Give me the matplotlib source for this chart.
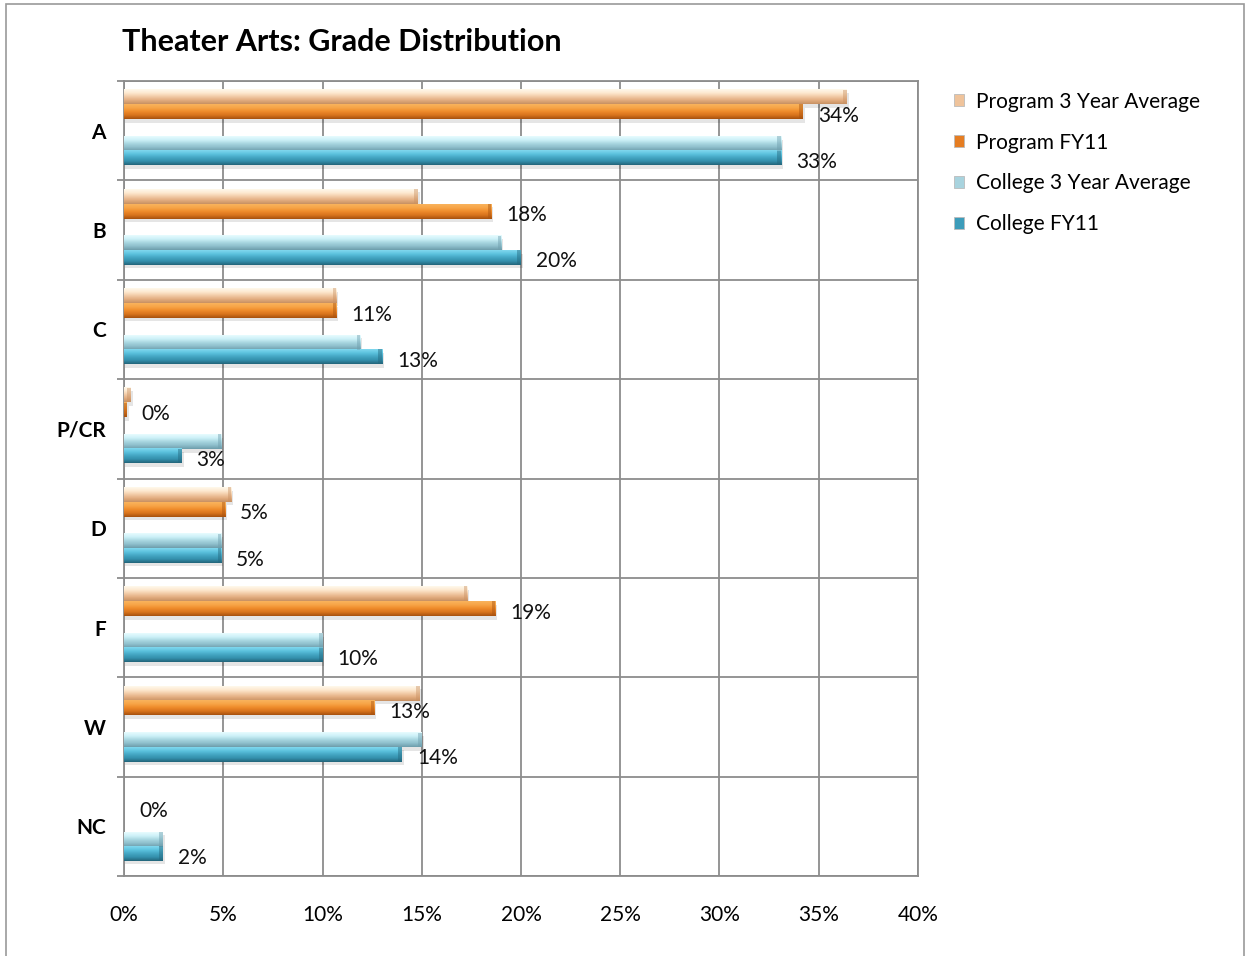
import numpy as np
import matplotlib
matplotlib.use("Agg")
import matplotlib.pyplot as plt
from matplotlib.patches import Patch, Rectangle
from matplotlib.colors import to_rgb

plt.rcParams['font.family'] = ['Lato', 'DejaVu Sans']

# -----------------------------
# DATA (percent)
# -----------------------------
grades = ["A", "B", "C", "P/CR", "D", "F", "W", "NC"]
series_names = ["Program 3 Year Average", "Program FY11",
                "College 3 Year Average", "College FY11"]

program_3yr = [36.4, 14.8, 10.7, 0.35, 5.4, 17.3, 14.9, 0.0]
program_fy11 = [34.2, 18.5, 10.7, 0.13, 5.1, 18.7, 12.6, 0.0]
college_3yr = [33.1, 19.0, 11.9, 4.9, 4.9, 10.0, 15.0, 1.95]
college_fy11 = [33.1, 20.0, 13.0, 2.9, 4.9, 10.0, 14.0, 1.95]

x_ticks = [0, 5, 10, 15, 20, 25, 30, 35, 40]

# -----------------------------
# STYLE
# -----------------------------
W, H = 1247, 956
GRID = "#8c8c8c"
BAR_H = 0.148
OFFSETS = [-0.34, -0.19, 0.13, 0.275]
LABELLED = [False, True, False, True]

# gradient stops, top -> bottom
GRADIENTS = [
    ["#fff8ea", "#fde9d0", "#f2cba6", "#e3ad80", "#c99264"],
    ["#f9b25c", "#f7a446", "#ee8a2a", "#d8731c", "#a9530f"],
    ["#e6fbfe", "#cdf1f8", "#a8d6e0", "#8ebfcc", "#6f9ead"],
    ["#7fd7ee", "#5cc2de", "#44a6c3", "#3490ac", "#24677d"],
]
LEGEND_COLORS = ["#efc39b", "#e57d22", "#a8d3de", "#3c9cba"]


def gradient_img(stops, n=24):
    cols = np.array([to_rgb(c) for c in stops])
    pos = np.linspace(0, 1, len(stops))
    t = np.linspace(0, 1, n)
    img = np.stack([np.interp(t, pos, cols[:, k]) for k in range(3)], axis=1)
    return img[:, None, :]


fig = plt.figure(figsize=(W / 100, H / 100), dpi=100)
ax = fig.add_axes([124 / W, 1 - 876 / H, 794 / W, 795 / H])

all_series = [program_3yr, program_fy11, college_3yr, college_fy11]
ypos = np.arange(len(grades))

for s, vals in enumerate(all_series):
    img = gradient_img(GRADIENTS[s])
    dark = np.array(to_rgb(GRADIENTS[s][-1]))
    for i, v in enumerate(vals):
        c = ypos[i] + OFFSETS[s]
        top, bot = c - BAR_H / 2, c + BAR_H / 2
        if v > 0:
            # soft drop shadow
            ax.add_patch(Rectangle((0.05, top + 0.035), v + 0.05, BAR_H,
                                   facecolor="black", alpha=0.10,
                                   edgecolor="none", zorder=2))
            ax.imshow(img, extent=(0, v, bot, top), origin="upper",
                      aspect="auto", interpolation="bilinear", zorder=3)
            # bevelled end
            ax.add_patch(Rectangle((max(v - 0.18, 0), top), min(0.18, v), BAR_H,
                                   facecolor=dark, alpha=0.45,
                                   edgecolor="none", zorder=4))
        if LABELLED[s]:
            ax.annotate(f"{v:.0f}%", (v, c), xytext=(15, -4),
                        textcoords="offset pixels", ha="left", va="center",
                        fontsize=15, color="#111111", zorder=5)

ax.set_xlim(0, 40)
ax.set_ylim(len(grades) - 0.5, -0.5)
ax.set_aspect("auto")

# grid / ticks
ax.set_xticks(x_ticks)
ax.set_xticklabels([f"{t}%" for t in x_ticks], fontsize=15)
ax.tick_params(axis="x", length=0, pad=21)

ax.set_yticks(np.arange(len(grades) + 1) - 0.5)
ax.set_yticklabels([])
ax.set_yticks(ypos, minor=True)
ax.set_yticklabels(grades, minor=True, fontsize=15, fontweight="bold")
ax.tick_params(axis="y", which="major", length=5, width=1.3, color=GRID)
ax.tick_params(axis="y", which="minor", length=0, pad=13)

ax.grid(True, which="major", color=GRID, linewidth=1.3)
ax.set_axisbelow(True)
for sp in ax.spines.values():
    sp.set_color(GRID)
    sp.set_linewidth(1.3)

# title
fig.text(122 / W, 1 - 42 / H, "Theater Arts: Grade Distribution",
         fontsize=22, fontweight="bold", ha="left", va="center")

# legend
handles = [Patch(facecolor=LEGEND_COLORS[k], edgecolor="#bbbbbb", linewidth=0.6,
                 label=series_names[k]) for k in range(4)]
fig.legend(handles=handles, loc="upper left",
           bbox_to_anchor=(935 / W, 1 - 73 / H), frameon=False,
           fontsize=15, handlelength=0.5, handleheight=0.5,
           handletextpad=0.56, labelspacing=1.0)

# outer chart border
fig.patches.append(Rectangle((6 / W, -0.05), 1238 / W, 1.05 - 4 / H,
                             transform=fig.transFigure, fill=False,
                             edgecolor="#9a9a9a", linewidth=1.2))

fig.savefig("out.png", dpi=100)
